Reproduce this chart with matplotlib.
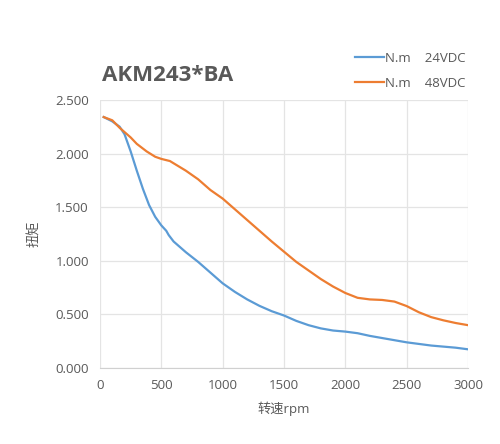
import matplotlib
matplotlib.use("Agg")
import matplotlib.pyplot as plt
from matplotlib.ticker import FormatStrFormatter

plt.rcParams['font.family'] = ['Open Sans', 'Noto Sans CJK SC', 'DejaVu Sans']

# speed (rpm) / torque (N.m)
rpm_24 = [30, 100, 160, 200, 250, 300, 350, 400, 450, 500, 540, 560, 600, 700, 800,
          900, 1000, 1100, 1200, 1300, 1400, 1500, 1600, 1700, 1800, 1900, 2000,
          2100, 2200, 2300, 2400, 2500, 2600, 2700, 2800, 2900, 3000]
torque_24 = [2.34, 2.30, 2.25, 2.18, 2.02, 1.84, 1.67, 1.52, 1.41, 1.33, 1.28, 1.24,
             1.18, 1.08, 0.99, 0.89, 0.79, 0.71, 0.64, 0.58, 0.53, 0.49, 0.44, 0.40,
             0.37, 0.35, 0.34, 0.325, 0.30, 0.28, 0.26, 0.24, 0.225, 0.21, 0.20,
             0.19, 0.175]

rpm_48 = [30, 100, 160, 250, 300, 380, 450, 500, 570, 700, 800, 900, 1000, 1100,
          1200, 1300, 1400, 1500, 1600, 1700, 1800, 1900, 2000, 2100, 2200, 2300,
          2400, 2500, 2600, 2700, 2800, 2900, 3000]
torque_48 = [2.34, 2.31, 2.24, 2.15, 2.09, 2.02, 1.97, 1.95, 1.93, 1.84, 1.76, 1.66,
             1.58, 1.48, 1.38, 1.28, 1.18, 1.085, 0.99, 0.91, 0.83, 0.76, 0.70,
             0.655, 0.64, 0.635, 0.62, 0.578, 0.52, 0.475, 0.445, 0.42, 0.40]

labels = ["N.m    24VDC", "N.m    48VDC"]
grey = "#595959"

fig = plt.figure(figsize=(5, 4.44), dpi=100)
ax = fig.add_axes([0.2, 0.171, 0.736, 0.604])

ax.plot(rpm_24, torque_24, color="#5B9BD5", lw=1.6, label=labels[0])
ax.plot(rpm_48, torque_48, color="#ED7D31", lw=1.6, label=labels[1])

ax.set_xlim(0, 3000)
ax.set_ylim(0, 2.5)
ax.set_xticks(range(0, 3001, 500))
ax.set_yticks([0, 0.5, 1.0, 1.5, 2.0, 2.5])
ax.yaxis.set_major_formatter(FormatStrFormatter('%.3f'))
ax.grid(True, color="#E4E4E4", lw=0.9)
ax.set_axisbelow(True)
for side in ["left", "top", "right"]:
    ax.spines[side].set_visible(False)
ax.spines["bottom"].set_color("#D0D0D0")
ax.tick_params(length=0, colors=grey, labelsize=9.5, pad=8)

ax.set_xlabel("转速rpm", color=grey, fontsize=9.5, labelpad=7)
ax.set_ylabel("扭矩", color=grey, fontsize=9.5, labelpad=10)

fig.text(0.205, 0.83, "AKM243*BA", fontsize=16, fontweight="bold", color=grey,
         va="center")

leg = fig.legend(loc="upper right", bbox_to_anchor=(0.955, 0.91), frameon=False,
                 fontsize=9.5, handlelength=2.2, handletextpad=0.1, labelspacing=0.9)
for t in leg.get_texts():
    t.set_color(grey)

fig.savefig("out.png", dpi=100)
